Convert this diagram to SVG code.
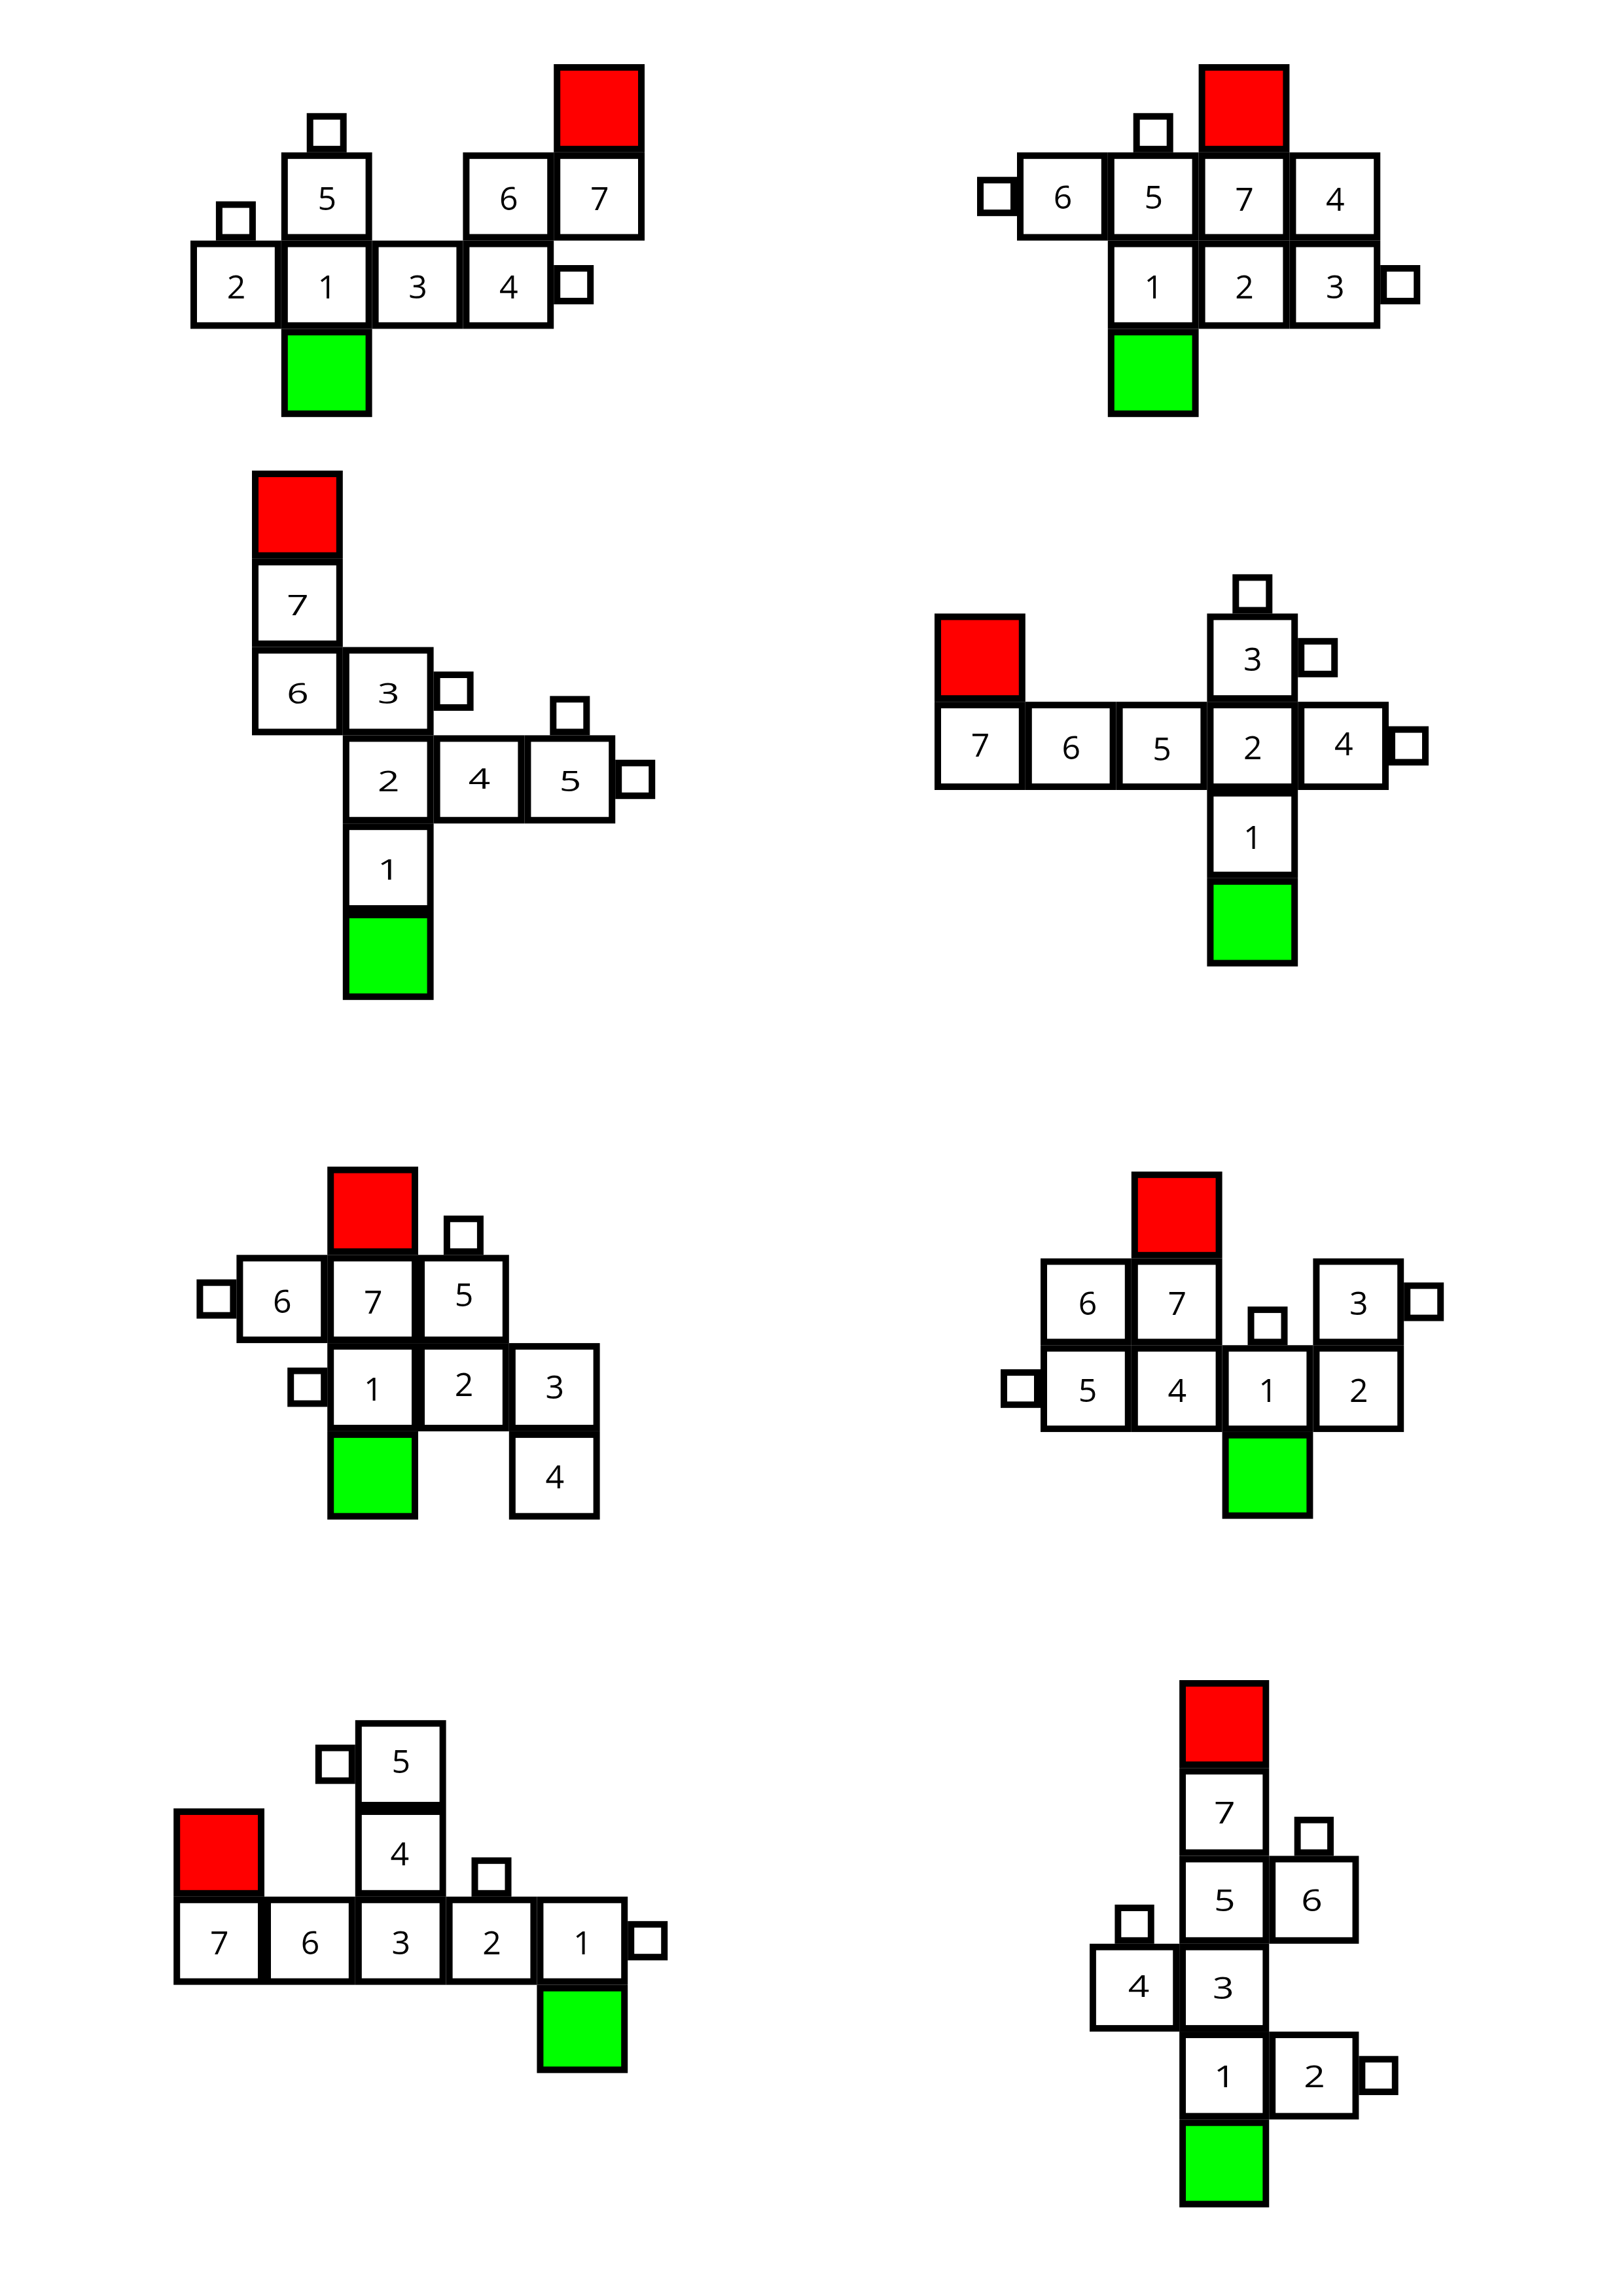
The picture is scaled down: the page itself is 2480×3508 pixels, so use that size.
<svg xmlns="http://www.w3.org/2000/svg" width="2480" height="3508" viewBox="0 0 2480 3508">
<style>
.c{fill:#fff;stroke:#000;stroke-width:10}
.r{fill:#f00;stroke:#000;stroke-width:10}
.g{fill:#0f0;stroke:#000;stroke-width:10}
.s{fill:#fff;stroke:#000;stroke-width:10}
.t{font-family:"Open Sans","DejaVu Sans",sans-serif;font-size:50px;text-anchor:middle;fill:#000}
.w{font-family:"Open Sans","DejaVu Sans",sans-serif;font-size:48px;text-anchor:middle;fill:#000}
</style>
<rect width="2480" height="3508" fill="#fff"/>

<g id="puzzle1" transform="translate(291,98)">
  <g id="p1-red" transform="translate(555.2,0)"><rect class="r" x="5" y="5" width="128.8" height="124.8"/></g>
  <g id="p1-n5" transform="translate(138.8,134.8)"><rect class="c" x="5" y="5" width="128.8" height="124.8"/><text class="t" x="70" y="88">5</text></g>
  <g id="p1-n6" transform="translate(416.4,134.8)"><rect class="c" x="5" y="5" width="128.8" height="124.8"/><text class="t" x="70" y="88">6</text></g>
  <g id="p1-n7" transform="translate(555.2,134.8)"><rect class="c" x="5" y="5" width="128.8" height="124.8"/><text class="t" x="70" y="88">7</text></g>
  <g id="p1-n2" transform="translate(0,269.6)"><rect class="c" x="5" y="5" width="128.8" height="124.8"/><text class="t" x="70" y="88">2</text></g>
  <g id="p1-n1" transform="translate(138.8,269.6)"><rect class="c" x="5" y="5" width="128.8" height="124.8"/><text class="t" x="70" y="88">1</text></g>
  <g id="p1-n3" transform="translate(277.6,269.6)"><rect class="c" x="5" y="5" width="128.8" height="124.8"/><text class="t" x="70" y="88">3</text></g>
  <g id="p1-n4" transform="translate(416.4,269.6)"><rect class="c" x="5" y="5" width="128.8" height="124.8"/><text class="t" x="70" y="88">4</text></g>
  <g id="p1-green" transform="translate(138.8,404.4)"><rect class="g" x="5" y="5" width="128.8" height="124.8"/></g>
  <g id="p1-s1"><rect class="s" x="182.7" y="79.8" width="51" height="50"/></g>
  <g id="p1-s2"><rect class="s" x="43.9" y="214.6" width="51" height="50"/></g>
  <g id="p1-s3"><rect class="s" x="560.2" y="312" width="51" height="50"/></g>
</g>

<g id="puzzle2" transform="translate(1554,98)">
  <g id="p2-red" transform="translate(277.6,0)"><rect class="r" x="5" y="5" width="128.8" height="124.8"/></g>
  <g id="p2-n6" transform="translate(0,134.8)"><rect class="c" x="5" y="5" width="128.8" height="124.8"/><text class="t" x="70" y="86">6</text></g>
  <g id="p2-n5" transform="translate(138.8,134.8)"><rect class="c" x="5" y="5" width="128.8" height="124.8"/><text class="t" x="70" y="86">5</text></g>
  <g id="p2-n7" transform="translate(277.6,134.8)"><rect class="c" x="5" y="5" width="128.8" height="124.8"/><text class="t" x="70" y="89">7</text></g>
  <g id="p2-n4" transform="translate(416.4,134.8)"><rect class="c" x="5" y="5" width="128.8" height="124.8"/><text class="t" x="70" y="89">4</text></g>
  <g id="p2-n1" transform="translate(138.8,269.6)"><rect class="c" x="5" y="5" width="128.8" height="124.8"/><text class="t" x="70" y="88">1</text></g>
  <g id="p2-n2" transform="translate(277.6,269.6)"><rect class="c" x="5" y="5" width="128.8" height="124.8"/><text class="t" x="70" y="88">2</text></g>
  <g id="p2-n3" transform="translate(416.4,269.6)"><rect class="c" x="5" y="5" width="128.8" height="124.8"/><text class="t" x="70" y="88">3</text></g>
  <g id="p2-green" transform="translate(138.8,404.4)"><rect class="g" x="5" y="5" width="128.8" height="124.8"/></g>
  <g id="p2-s1"><rect class="s" x="182.7" y="79.8" width="51" height="50"/></g>
  <g id="p2-s2"><rect class="s" x="-56" y="177.2" width="51" height="50"/></g>
  <g id="p2-s3"><rect class="s" x="560.2" y="312" width="51" height="50"/></g>
</g>

<g id="puzzle3" transform="translate(385,719)">
  <g id="p3-red" transform="translate(0,0)"><rect class="r" x="5" y="5" width="128.8" height="124.8"/></g>
  <g id="p3-n7" transform="translate(0,134.8)"><rect class="c" x="5" y="5" width="128.8" height="124.8"/><text class="w" transform="translate(70,86) scale(1.22,0.92)">7</text></g>
  <g id="p3-n6" transform="translate(0,269.6)"><rect class="c" x="5" y="5" width="128.8" height="124.8"/><text class="w" transform="translate(70,86) scale(1.22,0.92)">6</text></g>
  <g id="p3-n3" transform="translate(138.8,269.6)"><rect class="c" x="5" y="5" width="128.8" height="124.8"/><text class="w" transform="translate(70,86) scale(1.22,0.92)">3</text></g>
  <g id="p3-n2" transform="translate(138.8,404.4)"><rect class="c" x="5" y="5" width="128.8" height="124.8"/><text class="w" transform="translate(70,86) scale(1.22,0.92)">2</text></g>
  <g id="p3-n4" transform="translate(277.6,404.4)"><rect class="c" x="5" y="5" width="128.8" height="124.8"/><text class="w" transform="translate(70,82) scale(1.22,0.92)">4</text></g>
  <g id="p3-n5" transform="translate(416.4,404.4)"><rect class="c" x="5" y="5" width="128.8" height="124.8"/><text class="w" transform="translate(70,86) scale(1.22,0.92)">5</text></g>
  <g id="p3-n1" transform="translate(138.8,539.2)"><rect class="c" x="5" y="5" width="128.8" height="124.8"/><text class="w" transform="translate(70,86) scale(1.22,0.92)">1</text></g>
  <g id="p3-green" transform="translate(138.8,674)"><rect class="g" x="5" y="5" width="128.8" height="124.8"/></g>
  <g id="p3-s1"><rect class="s" x="282.6" y="312" width="51" height="50"/></g>
  <g id="p3-s2"><rect class="s" x="460.3" y="349.4" width="51" height="50"/></g>
  <g id="p3-s3"><rect class="s" x="560.2" y="446.8" width="51" height="50"/></g>
</g>

<g id="puzzle4" transform="translate(1428,937.4)">
  <g id="p4-red" transform="translate(0,0)"><rect class="r" x="5" y="5" width="128.8" height="124.8"/></g>
  <g id="p4-n3" transform="translate(416.4,0)"><rect class="c" x="5" y="5" width="128.8" height="124.8"/><text class="t" x="70" y="88">3</text></g>
  <g id="p4-n7" transform="translate(0,134.8)"><rect class="c" x="5" y="5" width="128.8" height="124.8"/><text class="t" x="70" y="84">7</text></g>
  <g id="p4-n6" transform="translate(138.8,134.8)"><rect class="c" x="5" y="5" width="128.8" height="124.8"/><text class="t" x="70" y="88">6</text></g>
  <g id="p4-n5" transform="translate(277.6,134.8)"><rect class="c" x="5" y="5" width="128.8" height="124.8"/><text class="t" x="70" y="90">5</text></g>
  <g id="p4-n2" transform="translate(416.4,134.8)"><rect class="c" x="5" y="5" width="128.8" height="124.8"/><text class="t" x="70" y="88">2</text></g>
  <g id="p4-n4" transform="translate(555.2,134.8)"><rect class="c" x="5" y="5" width="128.8" height="124.8"/><text class="t" x="70" y="82">4</text></g>
  <g id="p4-n1" transform="translate(416.4,269.6)"><rect class="c" x="5" y="5" width="128.8" height="124.8"/><text class="t" x="70" y="90">1</text></g>
  <g id="p4-green" transform="translate(416.4,404.4)"><rect class="g" x="5" y="5" width="128.8" height="124.8"/></g>
  <g id="p4-s1"><rect class="s" x="460.3" y="-55" width="51" height="50"/></g>
  <g id="p4-s2"><rect class="s" x="560.2" y="42.4" width="51" height="50"/></g>
  <g id="p4-s3"><rect class="s" x="699" y="177.2" width="51" height="50"/></g>
</g>

<g id="puzzle5" transform="translate(361.4,1782.5)">
  <g id="p5-red" transform="translate(138.8,0)"><rect class="r" x="5" y="5" width="128.8" height="124.8"/></g>
  <g id="p5-n6" transform="translate(0,134.8)"><rect class="c" x="5" y="5" width="128.8" height="124.8"/><text class="t" x="70" y="89">6</text></g>
  <g id="p5-n7" transform="translate(138.8,134.8)"><rect class="c" x="5" y="5" width="128.8" height="124.8"/><text class="t" x="70" y="90">7</text></g>
  <g id="p5-n5" transform="translate(277.6,134.8)"><rect class="c" x="5" y="5" width="128.8" height="124.8"/><text class="t" x="70" y="79">5</text></g>
  <g id="p5-n1" transform="translate(138.8,269.6)"><rect class="c" x="5" y="5" width="128.8" height="124.8"/><text class="t" x="70" y="88">1</text></g>
  <g id="p5-n2" transform="translate(277.6,269.6)"><rect class="c" x="5" y="5" width="128.8" height="124.8"/><text class="t" x="70" y="81">2</text></g>
  <g id="p5-n3" transform="translate(416.4,269.6)"><rect class="c" x="5" y="5" width="128.8" height="124.8"/><text class="t" x="70" y="85">3</text></g>
  <g id="p5-green" transform="translate(138.8,404.4)"><rect class="g" x="5" y="5" width="128.8" height="124.8"/></g>
  <g id="p5-n4" transform="translate(416.4,404.4)"><rect class="c" x="5" y="5" width="128.8" height="124.8"/><text class="t" x="70" y="87">4</text></g>
  <g id="p5-s1"><rect class="s" x="-56" y="177.2" width="51" height="50"/></g>
  <g id="p5-s2"><rect class="s" x="321.5" y="79.8" width="51" height="50"/></g>
  <g id="p5-s3"><rect class="s" x="82.8" y="312" width="51" height="50"/></g>
</g>

<g id="puzzle6" transform="translate(1590,1790) scale(1,0.984)">
  <g id="p6-red" transform="translate(138.8,0)"><rect class="r" x="5" y="5" width="128.8" height="124.8"/></g>
  <g id="p6-n6" transform="translate(0,134.8)"><rect class="c" x="5" y="5" width="128.8" height="124.8"/><text class="t" x="72" y="88">6</text></g>
  <g id="p6-n7" transform="translate(138.8,134.8)"><rect class="c" x="5" y="5" width="128.8" height="124.8"/><text class="t" x="70" y="88">7</text></g>
  <g id="p6-n3" transform="translate(416.4,134.8)"><rect class="c" x="5" y="5" width="128.8" height="124.8"/><text class="t" x="70" y="88">3</text></g>
  <g id="p6-n5" transform="translate(0,269.6)"><rect class="c" x="5" y="5" width="128.8" height="124.8"/><text class="t" x="72" y="88">5</text></g>
  <g id="p6-n4" transform="translate(138.8,269.6)"><rect class="c" x="5" y="5" width="128.8" height="124.8"/><text class="t" x="70" y="88">4</text></g>
  <g id="p6-n1" transform="translate(277.6,269.6)"><rect class="c" x="5" y="5" width="128.8" height="124.8"/><text class="t" x="70" y="88">1</text></g>
  <g id="p6-n2" transform="translate(416.4,269.6)"><rect class="c" x="5" y="5" width="128.8" height="124.8"/><text class="t" x="70" y="88">2</text></g>
  <g id="p6-green" transform="translate(277.6,404.4)"><rect class="g" x="5" y="5" width="128.8" height="124.8"/></g>
  <g id="p6-s1"><rect class="s" x="321.5" y="214.6" width="51" height="50"/></g>
  <g id="p6-s2"><rect class="s" x="560.2" y="177.2" width="51" height="50"/></g>
  <g id="p6-s3"><rect class="s" x="-56" y="312" width="51" height="50"/></g>
</g>

<g id="puzzle7" transform="translate(265.2,2628.2)">
  <g id="p7-n5" transform="translate(277.6,0)"><rect class="c" x="5" y="5" width="128.8" height="124.8"/><text class="t" x="70" y="81">5</text></g>
  <g id="p7-red" transform="translate(0,134.8)"><rect class="r" x="5" y="5" width="128.8" height="124.8"/></g>
  <g id="p7-n4" transform="translate(277.6,134.8)"><rect class="c" x="5" y="5" width="128.8" height="124.8"/><text class="t" x="68" y="87">4</text></g>
  <g id="p7-n7" transform="translate(0,269.6)"><rect class="c" x="5" y="5" width="128.8" height="124.8"/><text class="t" x="70" y="88">7</text></g>
  <g id="p7-n6" transform="translate(138.8,269.6)"><rect class="c" x="5" y="5" width="128.8" height="124.8"/><text class="t" x="70" y="88">6</text></g>
  <g id="p7-n3" transform="translate(277.6,269.6)"><rect class="c" x="5" y="5" width="128.8" height="124.8"/><text class="t" x="70" y="88">3</text></g>
  <g id="p7-n2" transform="translate(416.4,269.6)"><rect class="c" x="5" y="5" width="128.8" height="124.8"/><text class="t" x="70" y="88">2</text></g>
  <g id="p7-n1" transform="translate(555.2,269.6)"><rect class="c" x="5" y="5" width="128.8" height="124.8"/><text class="t" x="70" y="88">1</text></g>
  <g id="p7-green" transform="translate(555.2,404.4)"><rect class="g" x="5" y="5" width="128.8" height="124.8"/></g>
  <g id="p7-s1"><rect class="s" x="221.6" y="42.4" width="51" height="50"/></g>
  <g id="p7-s2"><rect class="s" x="460.3" y="214.6" width="51" height="50"/></g>
  <g id="p7-s3"><rect class="s" x="699" y="312" width="51" height="50"/></g>
</g>

<g id="puzzle8" transform="translate(1665,2567) scale(0.988,0.996)">
  <g id="p8-red" transform="translate(138.8,0)"><rect class="r" x="5" y="5" width="128.8" height="124.8"/></g>
  <g id="p8-n7" transform="translate(138.8,134.8)"><rect class="c" x="5" y="5" width="128.8" height="124.8"/><text class="w" transform="translate(70,85) scale(1.2,0.95)">7</text></g>
  <g id="p8-n5" transform="translate(138.8,269.6)"><rect class="c" x="5" y="5" width="128.8" height="124.8"/><text class="w" transform="translate(70,85) scale(1.2,0.95)">5</text></g>
  <g id="p8-n6" transform="translate(277.6,269.6)"><rect class="c" x="5" y="5" width="128.8" height="124.8"/><text class="w" transform="translate(66,85) scale(1.2,0.95)">6</text></g>
  <g id="p8-n4" transform="translate(0,404.4)"><rect class="c" x="5" y="5" width="128.8" height="124.8"/><text class="w" transform="translate(76,82) scale(1.2,0.95)">4</text></g>
  <g id="p8-n3" transform="translate(138.8,404.4)"><rect class="c" x="5" y="5" width="128.8" height="124.8"/><text class="w" transform="translate(68,85) scale(1.2,0.95)">3</text></g>
  <g id="p8-n1" transform="translate(138.8,539.2)"><rect class="c" x="5" y="5" width="128.8" height="124.8"/><text class="w" transform="translate(70,85) scale(1.2,0.95)">1</text></g>
  <g id="p8-n2" transform="translate(277.6,539.2)"><rect class="c" x="5" y="5" width="128.8" height="124.8"/><text class="w" transform="translate(70,85) scale(1.2,0.95)">2</text></g>
  <g id="p8-green" transform="translate(138.8,674)"><rect class="g" x="5" y="5" width="128.8" height="124.8"/></g>
  <g id="p8-s1"><rect class="s" x="321.5" y="214.6" width="51" height="50"/></g>
  <g id="p8-s2"><rect class="s" x="43.9" y="349.4" width="51" height="50"/></g>
  <g id="p8-s3"><rect class="s" x="421.4" y="581.6" width="51" height="50"/></g>
</g>
</svg>
